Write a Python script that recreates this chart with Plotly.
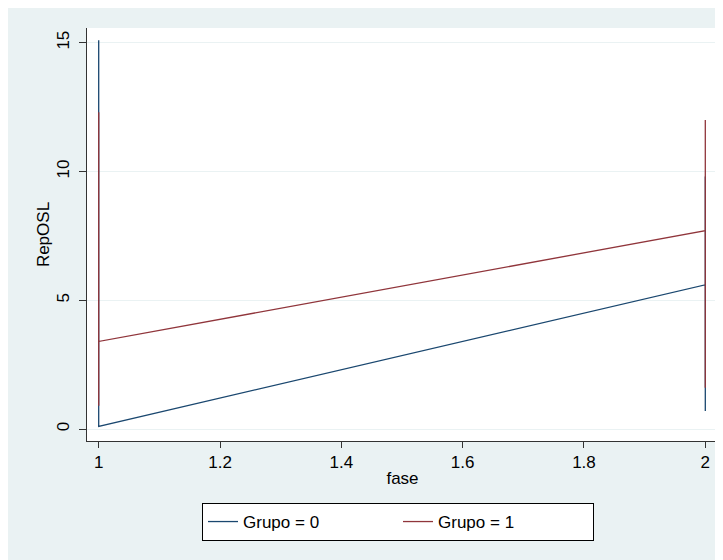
import plotly.graph_objects as go

fase_g0 = [1, 1, 1, 1, 1, 2, 2, 2, 2]
rep_g0 = [3.5, 15.1, 0.8, 6.0, 0.1, 5.6, 9.8, 0.7, 3.0]

fase_g1 = [1, 1, 1, 1, 2, 2, 2, 2]
rep_g1 = [12.3, 0.9, 6.5, 3.4, 7.7, 12.0, 1.6, 4.5]

series_names = ["Grupo = 0", "Grupo = 1"]
x_ticks = [1, 1.2, 1.4, 1.6, 1.8, 2]
x_tick_labels = ["1", "1.2", "1.4", "1.6", "1.8", "2"]
y_ticks = [0, 5, 10, 15]
y_tick_labels = ["0", "5", "10", "15"]

NAVY = "#1A476F"
MAROON = "#90353B"
BG = "#EAF2F3"
FONT = "Liberation Sans, Arial, sans-serif"

W, H = 723, 560
ML, MR, MT, MB = 79, 13, 20, 127

fig = go.Figure()
fig.add_trace(go.Scatter(x=fase_g0, y=rep_g0, mode="lines", name=series_names[0],
                         line=dict(color=NAVY, width=1.3)))
fig.add_trace(go.Scatter(x=fase_g1, y=rep_g1, mode="lines", name=series_names[1],
                         line=dict(color=MAROON, width=1.3)))

pw = W - ML - MR
ph = H - MT - MB

fig.update_layout(
    width=W, height=H,
    margin=dict(l=ML, r=MR, t=MT, b=MB, pad=0),
    paper_bgcolor=BG,
    plot_bgcolor="white",
    font=dict(family=FONT, size=17, color="black"),
    showlegend=True,
    legend=dict(
        orientation="h",
        x=0.4929, xanchor="center",
        y=-62 / ph, yanchor="top",
        bgcolor="white", bordercolor="black", borderwidth=1,
        font=dict(family=FONT, size=17),
        entrywidth=150,
    ),
    xaxis=dict(
        range=[0.98071, 2.02094],
        tickmode="array", tickvals=x_ticks, ticktext=x_tick_labels,
        ticks="outside", ticklen=6, tickcolor="#333", tickwidth=1,
        showline=True, linecolor="#333", linewidth=1,
        showgrid=False, zeroline=False,
        title=dict(text="fase", standoff=0, font=dict(size=17)),
        tickfont=dict(size=17),
    ),
    yaxis=dict(
        range=[-0.466, 15.571],
        tickmode="array", tickvals=y_ticks, ticktext=y_tick_labels,
        ticks="outside", ticklen=7, tickcolor="#333", tickwidth=1,
        tickangle=-90, ticklabelstandoff=3,
        showline=True, linecolor="#333", linewidth=1,
        showgrid=True, gridcolor=BG, gridwidth=1,
        zeroline=False,
        title=dict(text="RepOSL", standoff=0, font=dict(size=17)),
        tickfont=dict(size=17),
    ),
)

fig.write_html("out.html")
